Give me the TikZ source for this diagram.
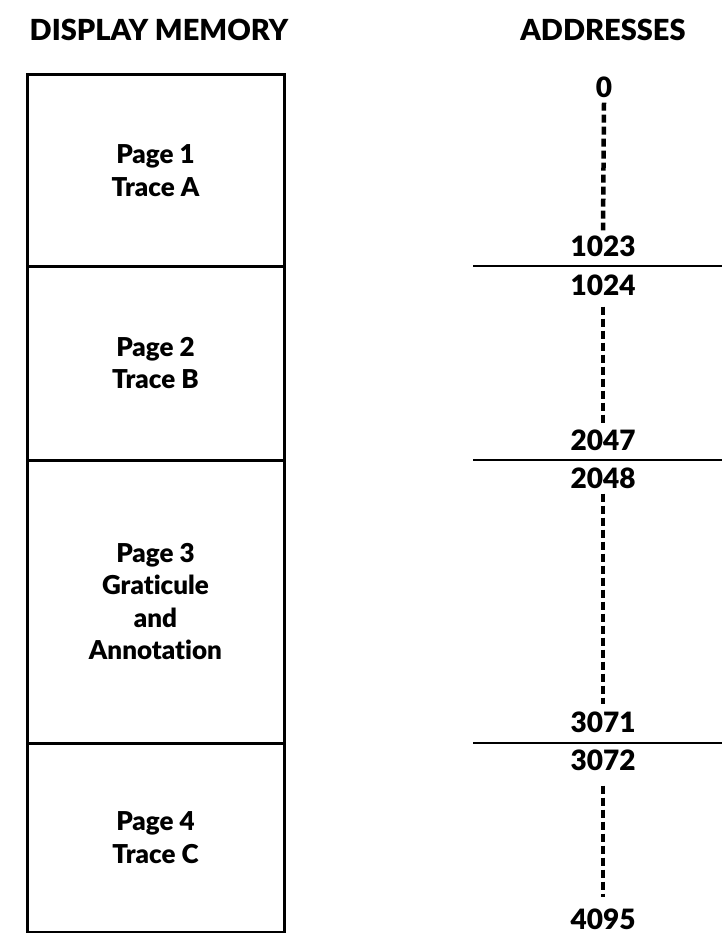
\documentclass[tikz,border=0pt]{standalone}
\usepackage{fontspec}
\setmainfont{Lato}[BoldFont={Lato Black},Ligatures=NoCommon]
\begin{document}
\begin{tikzpicture}[x=1pt,y=-1pt,
  pagebox/.style={draw,line width=3pt,minimum width=257pt,inner sep=0pt,align=center,
    font=\bfseries\fontsize{26}{32.5}\selectfont},
  hdr/.style={font=\bfseries\fontsize{29}{30}\selectfont,inner sep=0pt},
  addr/.style={font=\bfseries\fontsize{28}{28}\selectfont,inner sep=1pt},
  dots/.style={line width=4.5pt,dash pattern=on 8pt off 4pt},
  sep/.style={line width=2.4pt}]
\useasboundingbox (0,0) rectangle (722,933);
\node[hdr] (h1) at (159,30) {DISPLAY MEMORY};
\node[hdr] (h2) at (603,30) {ADDRESSES};
\node[pagebox,minimum height=191pt] (p1) at (155.5,170.5) {Page 1\\Trace A};
\node[pagebox,minimum height=194pt] (p2) at (155.5,363) {Page 2\\Trace B};
\node[pagebox,minimum height=283pt] (p3) at (155.5,601.5) {Page 3\\Graticule\\and\\Annotation};
\node[pagebox,minimum height=189pt] (p4) at (155.5,837.5) {Page 4\\Trace C};
\node[addr] (a0) at (604,87) {0};
\node[addr] (a1023) at (603,246) {1023};
\node[addr] (a1024) at (603,285) {1024};
\node[addr] (a2047) at (603,440) {2047};
\node[addr] (a2048) at (603,478) {2048};
\node[addr] (a3071) at (603,722) {3071};
\node[addr] (a3072) at (603,760) {3072};
\node[addr] (a4095) at (603,919) {4095};
\coordinate (s1l) at (473,266); \coordinate (s1r) at (722,266);
\coordinate (s2l) at (473,460); \coordinate (s2r) at (722,460);
\coordinate (s3l) at (473,743); \coordinate (s3r) at (722,743);
\draw[sep] (s1l) -- (s1r);
\draw[sep] (s2l) -- (s2r);
\draw[sep] (s3l) -- (s3r);
\draw[dots] ([yshift=-4pt]a0.south) -- ([yshift=4pt]a1023.north);
\draw[dots] ([yshift=-10pt]a1024.south) -- ([yshift=4pt]a2047.north);
\draw[dots] ([yshift=-4pt]a2048.south) -- ([yshift=6pt]a3071.north);
\draw[dots] ([yshift=-14pt]a3072.south) -- ([yshift=10pt]a4095.north);
\end{tikzpicture}
\end{document}
